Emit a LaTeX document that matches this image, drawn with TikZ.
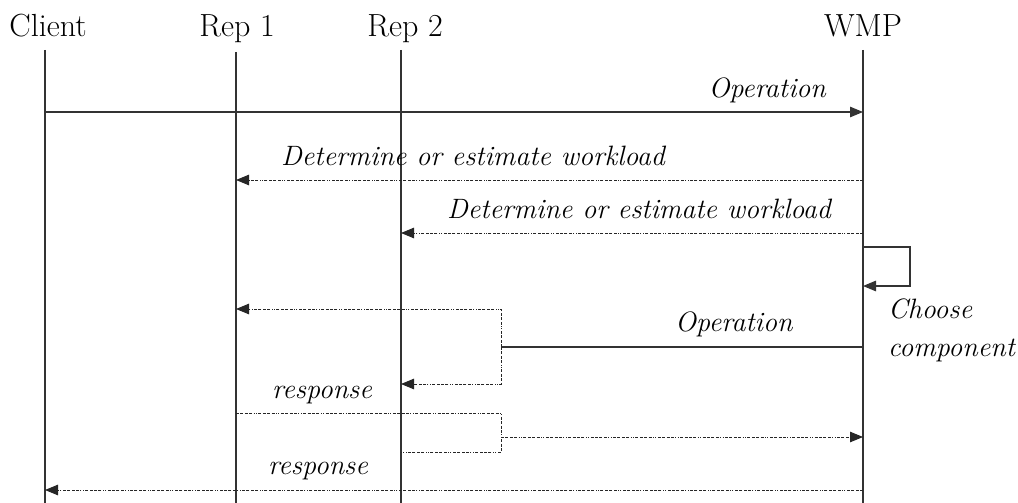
\documentclass[tikz,border=0pt]{standalone}
\usetikzlibrary{arrows.meta}
\begin{document}
\begin{tikzpicture}[x=1pt,y=-1pt,
  lifeline/.style={draw=black!80,line width=1.2pt},
  solidmsg/.style={draw=black!80,line width=1.2pt},
  dashmsg/.style={draw=black!85,line width=0.95pt,
    dash pattern=on 3pt off 1.4pt on 3pt off 1.4pt on 3pt off 1.4pt on 3pt off 1.4pt on 1pt off 1.4pt on 1pt off 1.4pt},
  msgtip/.style={-{Triangle[length=13pt,width=10.5pt]}},
  header/.style={font=\fontsize{32}{38}\selectfont,inner sep=0pt,anchor=base},
  msglabel/.style={font=\fontsize{28}{34}\selectfont\itshape,inner sep=0pt}]
\useasboundingbox (0,0) rectangle (1018,503);

% participants
\node[header] (client) at (48,37) {Client};
\node[header] (rep1)   at (237,37) {Rep 1};
\node[header] (rep2)   at (405,37) {Rep 2};
\node[header] (wmp)    at (863,37) {WMP};

% lifelines
\coordinate (cT) at (45,50);   \coordinate (cB) at (45,503);
\coordinate (r1T) at (236,52); \coordinate (r1B) at (236,503);
\coordinate (r2T) at (401,50); \coordinate (r2B) at (401,503);
\coordinate (wT) at (863,50);  \coordinate (wB) at (863,503);
\draw[lifeline] (cT) -- (cB);
\draw[lifeline] (r1T) -- (r1B);
\draw[lifeline] (r2T) -- (r2B);
\draw[lifeline] (wT) -- (wB);

% client request
\coordinate (op1a) at (45,112); \coordinate (op1b) at (863,112);
\draw[solidmsg,msgtip] (op1a) -- (op1b);
\node[msglabel,anchor=base east] (op1lbl) at (826,97) {Operation};

% workload queries
\coordinate (wl1a) at (863,180); \coordinate (wl1b) at (236,180);
\draw[dashmsg,msgtip] (wl1a) -- (wl1b);
\node[msglabel,anchor=base west] (wl1lbl) at (281,165) {Determine or estimate workload};

\coordinate (wl2a) at (863,233); \coordinate (wl2b) at (401,233);
\draw[dashmsg,msgtip] (wl2a) -- (wl2b);
\node[msglabel,anchor=base west] (wl2lbl) at (447,218) {Determine or estimate workload};

% self call: choose component
\coordinate (slA) at (863,247); \coordinate (slB) at (863,286);
\draw[solidmsg,msgtip] (slA) -- (910,247) -- (910,286) -- (slB);
\node[msglabel,anchor=base west] (choose) at (888,318) {Choose};
\node[msglabel,anchor=base west] (comp) at (888,356) {component};

% forwarded operation, forking to both replicas
\coordinate (op2a) at (863,347); \coordinate (fork) at (501,347);
\draw[solidmsg] (op2a) -- (fork);
\node[msglabel,anchor=base west] (op2lbl) at (675,331) {Operation};
\coordinate (fk1) at (236,309); \coordinate (fk2) at (401,384);
\draw[dashmsg,msgtip] (fork) -- (501,309) -- (fk1);
\draw[dashmsg,msgtip] (fork) -- (501,384) -- (fk2);

% responses joined back to WMP
\coordinate (rs1) at (236,413); \coordinate (rs2) at (401,452);
\coordinate (join) at (501,437); \coordinate (joinW) at (863,437);
\draw[dashmsg] (rs1) -- (501,413) -- (501,452) -- (rs2);
\draw[dashmsg,msgtip] (join) -- (joinW);
\node[msglabel,anchor=base west] (resp1) at (272,398) {response};

% final response to client
\coordinate (fr1) at (863,490); \coordinate (fr2) at (45,490);
\draw[dashmsg,msgtip] (fr1) -- (fr2);
\node[msglabel,anchor=base west] (resp2) at (268,474) {response};
\end{tikzpicture}
\end{document}
